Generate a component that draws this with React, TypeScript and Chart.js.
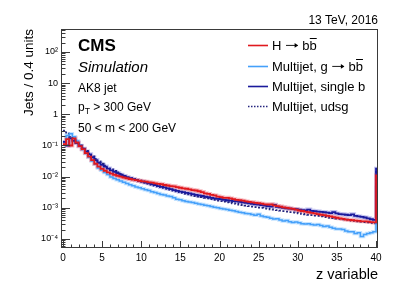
import React, { useEffect, useRef } from 'react';
import { Chart, registerables } from 'chart.js';

Chart.register(...registerables);

// Bin width 0.4, 100 bins from 0 to 40 plus an overflow bin at 40-40.4
const binWidth = 0.4;

const hbb = [
  0.11, 0.16, 0.10, 0.17, 0.125, 0.095, 0.076, 0.057, 0.044, 0.034,
  0.026, 0.021, 0.0178, 0.0155, 0.0138, 0.0126, 0.0115, 0.0107, 0.0100, 0.0094,
  0.0089, 0.0084, 0.0080, 0.0077, 0.0074, 0.0071, 0.0069, 0.0066, 0.0064, 0.0061,
  0.0059, 0.0057, 0.0054, 0.0052, 0.0050, 0.0049, 0.0046, 0.0044, 0.0042, 0.0041,
  0.0039, 0.0037, 0.0036, 0.0034, 0.0032, 0.0029, 0.0028, 0.0026, 0.0025, 0.0023,
  0.0022, 0.0021, 0.0021, 0.0020, 0.0019, 0.0018, 0.00175, 0.0017, 0.0016, 0.00155,
  0.0015, 0.00145, 0.0014, 0.00136, 0.0013, 0.00128, 0.0013, 0.0012, 0.00114, 0.0011,
  0.00104, 0.0010, 0.00096, 0.00092, 0.00088, 0.00082, 0.00079, 0.00076, 0.00072, 0.00069,
  0.00066, 0.00063, 0.0006, 0.00058, 0.00055, 0.00053, 0.0005, 0.00048, 0.00046, 0.00044,
  0.00042, 0.00041, 0.0004, 0.00039, 0.00038, 0.00037, 0.00037, 0.00036, 0.00035, 0.00034,
  0.011,
];

const gbb = [
  0.13, 0.21, 0.24, 0.19, 0.14, 0.10, 0.074, 0.055, 0.042, 0.032,
  0.025, 0.019, 0.016, 0.0135, 0.0118, 0.0098, 0.0088, 0.0080, 0.0073, 0.0066,
  0.0060, 0.0055, 0.0051, 0.0047, 0.0044, 0.0041, 0.0038, 0.0036, 0.0033, 0.0031,
  0.0029, 0.0027, 0.0026, 0.0024, 0.0023, 0.0021, 0.0019, 0.0018, 0.0017, 0.0016,
  0.00155, 0.00148, 0.0014, 0.00133, 0.00128, 0.00122, 0.00117, 0.0011, 0.00105, 0.001,
  0.00096, 0.00092, 0.00088, 0.00083, 0.0008, 0.00076, 0.00072, 0.0007, 0.00066, 0.00064,
  0.00061, 0.00058, 0.00062, 0.00055, 0.00052, 0.0005, 0.00046, 0.00044, 0.00045, 0.00041,
  0.00038, 0.00039, 0.00036, 0.00034, 0.00035, 0.00033, 0.00031, 0.0003, 0.00031, 0.00029,
  0.00028, 0.00029, 0.00027, 0.00025, 0.00026, 0.00024, 0.00022, 0.00021, 0.00021, 0.0002,
  0.00018, 0.00017, 0.00017, 0.00015, 0.00016, 0.00012, 0.00014, 0.00015, 0.00016, 0.00017,
  0.0046,
];

const singleB = [
  0.13, 0.10, 0.17, 0.14, 0.12, 0.097, 0.079, 0.064, 0.052, 0.042,
  0.034, 0.028, 0.024, 0.021, 0.0182, 0.016, 0.0143, 0.0128, 0.0115, 0.0105,
  0.0096, 0.0089, 0.0083, 0.0078, 0.0073, 0.0069, 0.0065, 0.0061, 0.0057, 0.0054,
  0.0050, 0.0047, 0.0045, 0.0042, 0.0040, 0.0037, 0.0035, 0.0033, 0.0032, 0.003,
  0.0029, 0.00275, 0.0026, 0.0025, 0.0024, 0.0023, 0.0022, 0.0021, 0.002, 0.00195,
  0.0019, 0.0018, 0.00175, 0.0017, 0.00165, 0.0016, 0.00155, 0.0015, 0.00145, 0.0014,
  0.00135, 0.0013, 0.00126, 0.00122, 0.00118, 0.00114, 0.0011, 0.00125, 0.00108, 0.00104,
  0.001, 0.00097, 0.00094, 0.00092, 0.0009, 0.00087, 0.00085, 0.00083, 0.00088, 0.0008,
  0.00078, 0.00076, 0.00074, 0.00072, 0.0007, 0.00068, 0.00073, 0.00066, 0.00063, 0.00062,
  0.0006, 0.00058, 0.00062, 0.00055, 0.00053, 0.00051, 0.00049, 0.00046, 0.00043, 0.00041,
  0.018,
];

const udsg = [
  0.30, 0.24, 0.19, 0.155, 0.125, 0.10, 0.082, 0.067, 0.055, 0.045,
  0.037, 0.031, 0.026, 0.0225, 0.0196, 0.0172, 0.0152, 0.0136, 0.0122, 0.011,
  0.0100, 0.0092, 0.0085, 0.0079, 0.0074, 0.0069, 0.0064, 0.006, 0.0056, 0.0052,
  0.0049, 0.0046, 0.0043, 0.0041, 0.0038, 0.0036, 0.0034, 0.0032, 0.003, 0.0028,
  0.0027, 0.0025, 0.0024, 0.0023, 0.0022, 0.0021, 0.0020, 0.0019, 0.0018, 0.00172,
  0.00165, 0.00158, 0.00151, 0.00145, 0.00139, 0.00133, 0.00128, 0.00123, 0.00118, 0.00114,
  0.0011, 0.00106, 0.00102, 0.00099, 0.00096, 0.00093, 0.0009, 0.00087, 0.00084, 0.00081,
  0.00078, 0.00076, 0.00073, 0.00071, 0.00069, 0.00066, 0.00064, 0.00062, 0.0006, 0.00058,
  0.00056, 0.00055, 0.00053, 0.00051, 0.0005, 0.00048, 0.00047, 0.00045, 0.00044, 0.00043,
  0.00042, 0.0004, 0.00039, 0.00038, 0.00037, 0.00036, 0.00035, 0.00034, 0.00033, 0.00032,
  0.016,
];

const seriesLabels = [
  'H \u2192 bb\u0305',
  'Multijet, g \u2192 bb\u0305',
  'Multijet, single b',
  'Multijet, udsg',
];

const xTickValues = [0, 5, 10, 15, 20, 25, 30, 35, 40];
const xTickLabels = ['0', '5', '10', '15', '20', '25', '30', '35', '40'];
const yTickValues = [1e-4, 1e-3, 1e-2, 1e-1, 1, 10, 100];
const yTickLabels = ['10\u207B\u2074', '10\u207B\u00B3', '10\u207B\u00B2', '10\u207B\u00B9', '1', '10', '10\u00B2'];

const infoLines = ['AK8 jet', 'p_T > 300 GeV', '50 < m < 200 GeV'];

const FONT = '"Liberation Sans", Arial, Helvetica, sans-serif';

const RED = '#e0191e';
const LIGHT = '#45a0fa';
const DARK = '#1a1a9c';
const DOTTED = '#25257e';

function toSteps(values: number[]) {
  const pts = values.map((v, i) => ({ x: i * binWidth, y: v }));
  pts.push({ x: values.length * binWidth, y: values[values.length - 1] });
  return pts;
}

function drawRich(ctx: CanvasRenderingContext2D, text: string, x: number, y: number, size: number, style = '') {
  let cx = x;
  const f = (s: number) => `${style} ${s}px ${FONT}`;
  for (let i = 0; i < text.length; i++) {
    const ch = text[i];
    if (ch === '_') {
      const sub = text[i + 1];
      ctx.font = f(size * 0.72);
      ctx.fillText(sub, cx, y + size * 0.28);
      cx += ctx.measureText(sub).width;
      i++;
      continue;
    }
    if (ch === '\u2192') {
      // long thin arrow like ROOT's #rightarrow
      const w = size * 1.05;
      const my = y - size * 0.33;
      ctx.save();
      ctx.strokeStyle = ctx.fillStyle as string;
      ctx.lineWidth = 0.9;
      ctx.beginPath();
      ctx.moveTo(cx + 1, my);
      ctx.lineTo(cx + w - 1, my);
      ctx.stroke();
      ctx.beginPath();
      ctx.moveTo(cx + w - 0.5, my);
      ctx.lineTo(cx + w - 4, my - 2.3);
      ctx.lineTo(cx + w - 4, my + 2.3);
      ctx.closePath();
      ctx.fill();
      ctx.restore();
      cx += w;
      continue;
    }
    ctx.font = f(size);
    const w = ctx.measureText(ch).width;
    ctx.fillText(ch, cx, y);
    if (text[i + 1] === '\u0305') {
      ctx.fillRect(cx + 0.3, y - size * 0.9, w - 0.3, 1);
      i++;
    }
    cx += w;
  }
}

const overlay = {
  id: 'overlay',
  afterDraw(chart: any) {
    const { ctx, chartArea: a, scales } = chart;
    const xs = scales.x;
    const ys = scales.y;
    ctx.save();
    // frame
    ctx.strokeStyle = '#3a3a3a';
    ctx.lineWidth = 1;
    ctx.strokeRect(a.left + 0.5, a.top + 0.5, a.right - a.left - 1, a.bottom - a.top - 1);
    // x ticks (inward)
    ctx.beginPath();
    for (let v = 0; v <= 40; v += 1) {
      const px = Math.round(xs.getPixelForValue(v)) + 0.5;
      const len = v % 5 === 0 ? 7 : 3.5;
      ctx.moveTo(px, a.bottom);
      ctx.lineTo(px, a.bottom - len);
    }
    // y ticks (inward)
    for (let d = -5; d <= 3; d++) {
      for (let m = 1; m <= 9; m++) {
        const v = m * Math.pow(10, d);
        if (v < ys.min || v > ys.max) continue;
        const py = Math.round(ys.getPixelForValue(v)) + 0.5;
        const len = m === 1 ? 9 : 4.5;
        ctx.moveTo(a.left, py);
        ctx.lineTo(a.left + len, py);
      }
    }
    ctx.stroke();

    ctx.fillStyle = '#000';
    ctx.textBaseline = 'alphabetic';
    // top-right label
    ctx.font = `12px ${FONT}`;
    ctx.textAlign = 'right';
    ctx.fillText('13 TeV, 2016', a.right, 24);
    // x title
    ctx.font = `14.5px ${FONT}`;
    ctx.fillText('z variable', a.right, 279);
    // y title
    ctx.save();
    ctx.translate(33, a.top);
    ctx.rotate(-Math.PI / 2);
    ctx.font = `13.5px ${FONT}`;
    ctx.textAlign = 'right';
    ctx.fillText('Jets / 0.4 units', 0, 0);
    ctx.restore();

    ctx.textAlign = 'left';
    ctx.font = `bold 17px ${FONT}`;
    ctx.fillText('CMS', 78, 51);
    ctx.font = `italic 15px ${FONT}`;
    ctx.fillText('Simulation', 78, 71.5);
    const infoY = [92, 111, 131.5];
    infoLines.forEach((t, i) => drawRich(ctx, t, 78, infoY[i], 12));

    // legend
    const rowY = [45, 66, 86, 106];
    const styles = [
      { c: RED, dash: [] as number[], w: 1.6 },
      { c: LIGHT, dash: [] as number[], w: 1.6 },
      { c: DARK, dash: [] as number[], w: 1.6 },
      { c: DOTTED, dash: [1.5, 1.5], w: 1.4 },
    ];
    seriesLabels.forEach((t, i) => {
      const y = rowY[i];
      ctx.strokeStyle = styles[i].c;
      ctx.lineWidth = styles[i].w;
      ctx.setLineDash(styles[i].dash);
      ctx.beginPath();
      ctx.moveTo(248, y + 0.5);
      ctx.lineTo(268, y + 0.5);
      ctx.stroke();
      ctx.setLineDash([]);
      ctx.fillStyle = '#000';
      drawRich(ctx, t, 272, y + 4.7, 13);
    });
    ctx.restore();
  },
};

export default function App() {
  const ref = useRef<HTMLCanvasElement>(null);
  useEffect(() => {
    if (!ref.current) return;
    const line = (data: number[], color: string, width: number, dash: number[] = []) => ({
      data: toSteps(data),
      borderColor: color,
      borderWidth: width,
      borderDash: dash,
      stepped: true,
      pointRadius: 0,
      fill: false,
    });
    const chart = new Chart(ref.current, {
      type: 'line',
      data: {
        datasets: [
          line(hbb, RED, 1.8),
          line(singleB, DARK, 1.8),
          line(gbb, LIGHT, 1.5),
          line(udsg, DOTTED, 1.8, [2, 2]),
          line(hbb, 'rgba(240,130,140,0.55)', 4),
          line(singleB, 'rgba(140,140,225,0.5)', 4),
          line(gbb, 'rgba(140,200,255,0.5)', 3.5),
        ] as any,
      },
      options: {
        responsive: false,
        animation: false,
        maintainAspectRatio: false,
        events: [],
        layout: { padding: { left: 0, right: 29, top: 29, bottom: 0 } },
        plugins: { legend: { display: false }, tooltip: { enabled: false } },
        scales: {
          x: {
            type: 'linear',
            min: -0.25,
            max: 40.25,
            afterBuildTicks: (s: any) => {
              s.ticks = xTickValues.map((v) => ({ value: v }));
            },
            afterFit: (s: any) => {
              s.height = 45;
            },
            ticks: {
              autoSkip: false,
              maxRotation: 0,
              padding: 4,
              color: '#000',
              font: { family: FONT, size: 10 },
              callback: (v: any) => xTickLabels[xTickValues.indexOf(Number(v))] ?? '',
            },
            grid: { display: false, drawTicks: false },
            border: { display: false },
          },
          y: {
            type: 'logarithmic',
            min: 5.14e-5,
            max: 547,
            afterBuildTicks: (s: any) => {
              s.ticks = yTickValues.map((v) => ({ value: v }));
            },
            afterFit: (s: any) => {
              s.width = 61;
            },
            ticks: {
              autoSkip: false,
              padding: 3,
              color: '#000',
              font: { family: FONT, size: 9 },
              callback: (v: any) => {
                const idx = yTickValues.findIndex((t) => Math.abs(Math.log10(t) - Math.log10(Number(v))) < 1e-6);
                return idx >= 0 ? yTickLabels[idx] : '';
              },
            },
            grid: { display: false, drawTicks: false },
            border: { display: false },
          },
        },
      } as any,
      plugins: [overlay],
    });
    return () => chart.destroy();
  }, []);
  return (
    <div style={{ position: 'absolute', left: 0, top: 0, width: 407, height: 293, background: '#fff' }}>
      <canvas ref={ref} width={407} height={293} style={{ display: 'block' }} />
    </div>
  );
}
